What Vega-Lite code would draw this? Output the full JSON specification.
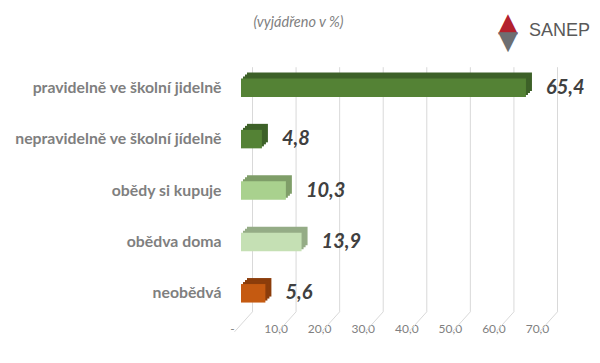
{
  "$schema": "https://vega.github.io/schema/vega-lite/v6.json",
  "width": 305,
  "height": 257,
  "autosize": "none",
  "padding": {"left": 241, "top": 62, "right": 54, "bottom": 44},
  "background": "white",
  "config": {
    "view": {"stroke": null},
    "font": "Lato",
    "locale": {"number": {"decimal": ",", "thousands": " ", "grouping": [3], "currency": ["", " Kč"]}}
  },
  "title": {
    "text": "▲", "subtitle": "▼", "anchor": "end", "frame": "group", "orient": "top",
    "font": "DejaVu Sans", "fontSize": 26, "fontWeight": "normal", "color": "#b3222c",
    "subtitleFont": "DejaVu Sans", "subtitleFontSize": 26, "subtitleColor": "#6d6e71", "subtitlePadding": -8,
    "dx": -28, "dy": 40, "offset": 0
  },
  "datasets": {
    "odpovedi": [
      {"kategorie": "pravidelně ve školní jidelně", "hodnota": 65.4},
      {"kategorie": "nepravidelně ve školní jídelně", "hodnota": 4.8},
      {"kategorie": "obědy si kupuje", "hodnota": 10.3},
      {"kategorie": "obědva doma", "hodnota": 13.9},
      {"kategorie": "neobědvá", "hodnota": 5.6}
    ],
    "mrizka": [
      {"hodnota": 0}, {"hodnota": 10}, {"hodnota": 20}, {"hodnota": 30},
      {"hodnota": 40}, {"hodnota": 50}, {"hodnota": 60}, {"hodnota": 70}
    ]
  },
  "resolve": {"axis": {"x": "independent", "y": "independent"}, "scale": {"color": "independent"}},
  "layer": [
    {
      "data": {"name": "mrizka"},
      "mark": {"type": "rule", "color": "#d9d9d9", "strokeWidth": 1, "xOffset": 11.5, "x2Offset": 11.5, "yOffset": -20.5, "y2Offset": 18.5},
      "encoding": {
        "x": {"field": "hodnota", "type": "quantitative", "scale": {"domain": [0, 70], "nice": false}, "axis": null},
        "x2": {"field": "hodnota"},
        "y": {"datum": "pravidelně ve školní jidelně", "type": "nominal", "scale": {"domain": ["pravidelně ve školní jidelně", "nepravidelně ve školní jídelně", "obědy si kupuje", "obědva doma", "neobědvá"], "paddingInner": 0.64, "paddingOuter": 0.32}, "axis": null},
        "y2": {"datum": "neobědvá"}
      }
    },
    {
      "data": {"name": "mrizka"},
      "mark": {"type": "rule", "color": "#d9d9d9", "strokeWidth": 1, "xOffset": 11.5, "x2Offset": -6.5, "yOffset": 18.5, "y2Offset": 38.5},
      "encoding": {
        "x": {"field": "hodnota", "type": "quantitative", "axis": null},
        "x2": {"field": "hodnota"},
        "y": {"datum": "neobědvá", "type": "nominal", "axis": null},
        "y2": {"datum": "neobědvá"}
      }
    },
    {
      "data": {"name": "odpovedi"},
      "mark": {"type": "bar", "xOffset": 6, "x2Offset": 6, "yOffset": -6},
      "encoding": {
        "y": {"field": "kategorie", "type": "nominal", "sort": null, "axis": null},
        "x": {"field": "hodnota", "type": "quantitative", "axis": null},
        "color": {"field": "kategorie", "type": "nominal", "legend": null, "scale": {
          "domain": ["pravidelně ve školní jidelně", "nepravidelně ve školní jídelně", "obědy si kupuje", "obědva doma", "neobědvá"],
          "range": ["#3d6128", "#3d6128", "#7f9e69", "#95ac86", "#8c3d0b"]}}
      }
    },
    {
      "data": {"name": "odpovedi"},
      "mark": {"type": "bar", "xOffset": 4, "x2Offset": 4, "yOffset": -4},
      "encoding": {
        "y": {"field": "kategorie", "type": "nominal", "sort": null, "axis": null},
        "x": {"field": "hodnota", "type": "quantitative", "axis": null},
        "color": {"field": "kategorie", "type": "nominal", "legend": null, "scale": {
          "domain": ["pravidelně ve školní jidelně", "nepravidelně ve školní jídelně", "obědy si kupuje", "obědva doma", "neobědvá"],
          "range": ["#3d6128", "#3d6128", "#7f9e69", "#95ac86", "#8c3d0b"]}}
      }
    },
    {
      "data": {"name": "odpovedi"},
      "mark": {"type": "bar", "xOffset": 2, "x2Offset": 2, "yOffset": -2},
      "encoding": {
        "y": {"field": "kategorie", "type": "nominal", "sort": null, "axis": null},
        "x": {"field": "hodnota", "type": "quantitative", "axis": null},
        "color": {"field": "kategorie", "type": "nominal", "legend": null, "scale": {
          "domain": ["pravidelně ve školní jidelně", "nepravidelně ve školní jídelně", "obědy si kupuje", "obědva doma", "neobědvá"],
          "range": ["#3d6128", "#3d6128", "#7f9e69", "#95ac86", "#8c3d0b"]}}
      }
    },
    {
      "data": {"name": "odpovedi"},
      "mark": {"type": "bar"},
      "encoding": {
        "y": {"field": "kategorie", "type": "nominal", "sort": null, "axis": {
          "ticks": false, "domain": false, "title": null, "grid": false,
          "labelFontSize": 15.8, "labelFontWeight": "bold", "labelColor": "#7f7f7f", "labelPadding": 20, "labelFont": "Lato", "labelLimit": 300
        }},
        "x": {"field": "hodnota", "type": "quantitative", "axis": {
          "values": [0, 10, 20, 30, 40, 50, 60, 70], "format": ".1f",
          "labelExpr": "datum.value == 0 ? '-' : datum.label",
          "grid": false, "ticks": false, "domain": false, "title": null,
          "labelOffset": -9, "labelFlush": false, "labelOverlap": false,
          "labelColor": "#7f7f7f", "labelFontSize": 12, "labelPadding": 4, "labelFont": "Lato"
        }},
        "color": {"field": "kategorie", "type": "nominal", "legend": null, "scale": {
          "domain": ["pravidelně ve školní jidelně", "nepravidelně ve školní jídelně", "obědy si kupuje", "obědva doma", "neobědvá"],
          "range": ["#548235", "#548235", "#a9d18e", "#c5e0b4", "#c55a11"]}}
      }
    },
    {
      "data": {"name": "odpovedi"},
      "mark": {"type": "text", "align": "left", "baseline": "middle", "dx": 20, "fontSize": 20, "fontWeight": "bold", "fontStyle": "italic", "color": "#404040", "font": "Lato"},
      "encoding": {
        "y": {"field": "kategorie", "type": "nominal", "sort": null, "axis": {
          "orient": "right", "labels": false, "ticks": false, "domain": false, "grid": false,
          "title": "SANEP", "titleAngle": 0, "titleX": 13, "titleY": -32, "titleAlign": "center", "titleBaseline": "middle",
          "titleFont": "Liberation Sans", "titleFontSize": 18, "titleFontWeight": "normal", "titleColor": "#595959"
        }},
        "x": {"field": "hodnota", "type": "quantitative", "axis": {
          "orient": "top", "labels": false, "ticks": false, "domain": false, "grid": false,
          "title": "(vyjádřeno v %)", "titleX": 57, "titleY": -40, "titleAlign": "center", "titleBaseline": "middle",
          "titleFont": "Lato", "titleFontSize": 14.5, "titleFontWeight": "normal", "titleFontStyle": "italic", "titleColor": "#7f7f7f"
        }},
        "text": {"field": "hodnota", "type": "quantitative", "format": ".1f"}
      }
    }
  ]
}
